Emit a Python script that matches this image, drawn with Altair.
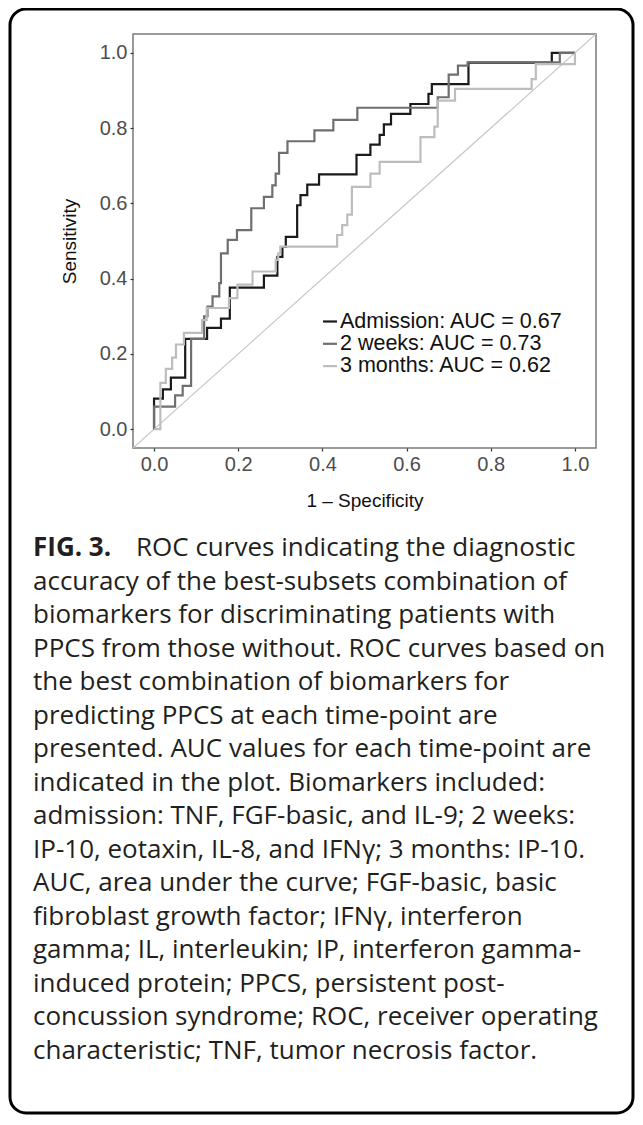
import altair as alt
import pandas as pd

# ---------------- data ----------------
series_names = ["Admission", "2 weeks", "3 months"]
series_colors = ["#1a1a1a", "#6f6f6f", "#bdbdbd"]
legend_labels = ["Admission: AUC = 0.67", "2 weeks: AUC = 0.73", "3 months: AUC = 0.62"]

adm_fpr = [0, 0, 0.021, 0.040, 0.074, 0.126, 0.159, 0.180, 0.261, 0.293, 0.305, 0.313,
           0.340, 0.348, 0.364, 0.392, 0.481, 0.514, 0.536, 0.546, 0.563, 0.609, 0.652,
           0.660, 0.747, 0.945, 1.0]
adm_tpr = [0, 0.081, 0.106, 0.137, 0.240, 0.269, 0.294, 0.376, 0.408, 0.458, 0.484, 0.511,
           0.595, 0.622, 0.650, 0.677, 0.729, 0.756, 0.782, 0.810, 0.838, 0.864, 0.891,
           0.917, 0.974, 1.0, 1.0]

w2_fpr = [0, 0, 0.050, 0.068, 0.088, 0.119, 0.127, 0.139, 0.155, 0.159, 0.175, 0.197,
          0.231, 0.261, 0.281, 0.289, 0.297, 0.317, 0.381, 0.426, 0.483, 0.674, 0.700,
          0.722, 0.745, 0.964, 1.0]
w2_tpr = [0, 0.060, 0.090, 0.115, 0.240, 0.300, 0.326, 0.353, 0.388, 0.467, 0.503, 0.529,
          0.587, 0.617, 0.648, 0.679, 0.734, 0.765, 0.794, 0.822, 0.854, 0.882, 0.942,
          0.966, 0.975, 1.0, 1.0]

m3_fpr = [0, 0.015, 0.028, 0.043, 0.052, 0.071, 0.114, 0.125, 0.178, 0.198, 0.234, 0.289,
          0.295, 0.300, 0.435, 0.447, 0.459, 0.470, 0.514, 0.536, 0.633, 0.666, 0.674,
          0.715, 0.897, 0.907, 1.0]
m3_tpr = [0, 0.123, 0.160, 0.190, 0.225, 0.256, 0.290, 0.322, 0.348, 0.384, 0.419, 0.450,
          0.467, 0.485, 0.516, 0.542, 0.570, 0.644, 0.679, 0.710, 0.776, 0.804, 0.873,
          0.904, 0.930, 0.970, 1.0]

diag_vals = [-0.05, 1.05]
tick_vals = [0.0, 0.2, 0.4, 0.6, 0.8, 1.0]

caption_bold = "FIG. 3."
caption_lines = [
    "ROC curves indicating the diagnostic",
    "accuracy of the best-subsets combination of",
    "biomarkers for discriminating patients with",
    "PPCS from those without. ROC curves based on",
    "the best combination of biomarkers for",
    "predicting PPCS at each time-point are",
    "presented. AUC values for each time-point are",
    "indicated in the plot. Biomarkers included:",
    "admission: TNF, FGF-basic, and IL-9; 2 weeks:",
    "IP-10, eotaxin, IL-8, and IFNγ; 3 months: IP-10.",
    "AUC, area under the curve; FGF-basic, basic",
    "fibroblast growth factor; IFNγ, interferon",
    "gamma; IL, interleukin; IP, interferon gamma-",
    "induced protein; PPCS, persistent post-",
    "concussion syndrome; ROC, receiver operating",
    "characteristic; TNF, tumor necrosis factor.",
]

# ---------------- tables ----------------
rows = []
for name, fx, ty in [("Admission", adm_fpr, adm_tpr),
                     ("2 weeks", w2_fpr, w2_tpr),
                     ("3 months", m3_fpr, m3_tpr)]:
    for i, (a, b) in enumerate(zip(fx, ty)):
        rows.append({"series": name, "fpr": a, "tpr": b, "i": i})
roc = pd.DataFrame(rows)
diag = pd.DataFrame({"fpr": diag_vals, "tpr": diag_vals})
leg = pd.DataFrame({"series": series_names, "label": legend_labels, "row": [0, 1, 2]})
cap = pd.DataFrame({"text": caption_lines, "row": list(range(len(caption_lines)))})

W, H = 463, 414
CAP_Y0, CAP_STEP = 514, 33.5
xscale = alt.Scale(domain=[-0.05, 1.05], nice=False, zero=False)
yscale = alt.Scale(domain=[-0.05, 1.05], nice=False, zero=False)
cscale = alt.Scale(domain=series_names, range=series_colors)

xaxis = alt.Axis(values=tick_vals, format=".1f", title="1 \u2013 Specificity")
yaxis = alt.Axis(values=tick_vals, format=".1f", title="Sensitivity")

diag_layer = alt.Chart(diag).mark_line(color="#c6c6c6", strokeWidth=1.2, clip=True).encode(
    x=alt.X("fpr:Q", scale=xscale, axis=xaxis),
    y=alt.Y("tpr:Q", scale=yscale, axis=yaxis),
)

roc_layer = alt.Chart(roc).mark_line(interpolate="step-after", strokeWidth=2.2).encode(
    x=alt.X("fpr:Q", scale=xscale),
    y=alt.Y("tpr:Q", scale=yscale),
    color=alt.Color("series:N", scale=cscale, legend=None),
    detail="series:N",
    order=alt.Order("i:Q"),
)

leg_keys = alt.Chart(leg).transform_calculate(
    ypx="287.5 + 22.3 * datum.row"
).mark_rule(strokeWidth=2.2).encode(
    x=alt.value(190), x2=alt.value(204),
    y=alt.Y("ypx:Q", scale=None),
    color=alt.Color("series:N", scale=cscale, legend=None),
)
leg_text = alt.Chart(leg).transform_calculate(
    ypx="287.5 + 22.3 * datum.row"
).mark_text(align="left", baseline="middle", font="Liberation Sans", fontSize=21.5,
            color="#111111").encode(
    x=alt.value(207),
    y=alt.Y("ypx:Q", scale=None),
    text="label:N",
)

border = alt.Chart(alt.Data(values=[{}])).mark_rect(
    fillOpacity=0, stroke="#000000", strokeWidth=3, cornerRadius=16
).encode(
    x=alt.value(-123), x2=alt.value(500), y=alt.value(-25), y2=alt.value(1079)
)

cap_bold = alt.Chart(alt.Data(values=[{}])).mark_text(
    align="left", baseline="middle", font="Open Sans", fontSize=26, fontWeight="bold",
    color="#231f20"
).encode(x=alt.value(-100), y=alt.value(CAP_Y0), text=alt.value(caption_bold))

cap_text = alt.Chart(cap).transform_calculate(
    ypx=f"{CAP_Y0} + {CAP_STEP} * datum.row",
    xpx="datum.row == 0 ? 3 : -100",
).mark_text(align="left", baseline="middle", font="Open Sans", fontSize=26,
            color="#231f20").encode(
    x=alt.X("xpx:Q", scale=None),
    y=alt.Y("ypx:Q", scale=None),
    text="text:N",
)

chart = alt.layer(
    diag_layer, roc_layer, leg_keys, leg_text, border, cap_bold, cap_text
).properties(
    width=W, height=H,
    autosize=alt.AutoSizeParams(type="none"),
    padding={"left": 125, "top": 26, "right": 39, "bottom": 669},
    background="white",
).configure_view(
    stroke="#7a7a7a", strokeWidth=1.5
).configure_axis(
    grid=False, domain=False,
    labelFont="Liberation Sans", labelFontSize=20, labelColor="#4d4d4d",
    tickColor="#333333", tickSize=3, tickWidth=1.2, labelPadding=3,
    titleFont="Liberation Sans", titleFontSize=19, titleFontWeight="normal",
    titleColor="#111111",
).configure_axisX(titlePadding=17).configure_axisY(titlePadding=20)

chart.save("out.html", embed_options={"renderer": "svg", "actions": False})
